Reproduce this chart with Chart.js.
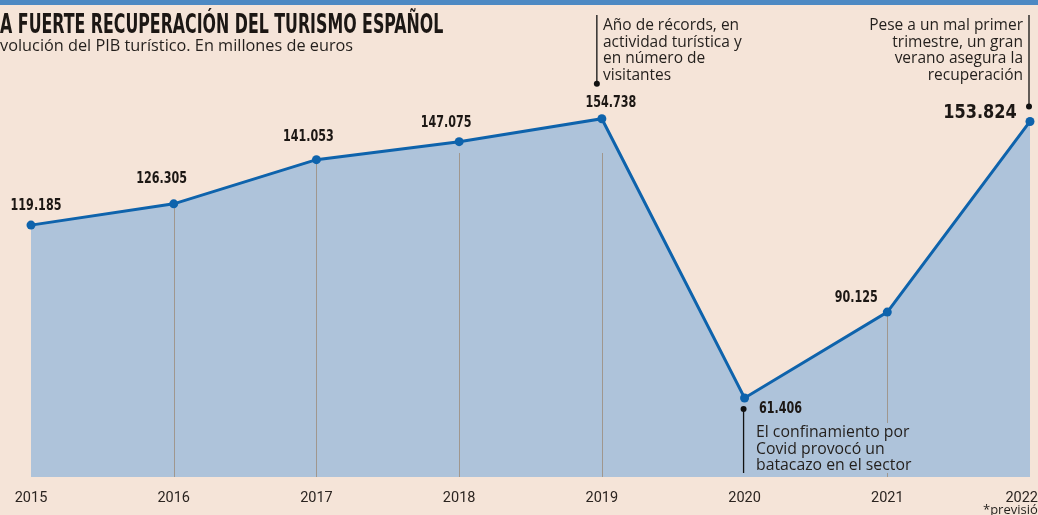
<!DOCTYPE html>
<html>
<head>
<meta charset="utf-8">
<script src="https://cdn.jsdelivr.net/npm/chart.js@4.4.1/dist/chart.umd.min.js"></script>
<style>
  body { margin: 0; background: #f5e4d8; }
  #wrap { position: relative; width: 1038px; height: 515px; overflow: hidden; background: #f5e4d8; }
  #bar { position: absolute; left: 0; top: 0; width: 1038px; height: 5px; background: #4d89c3; }
  canvas { position: absolute; left: 0; top: 0; }
  .txt { position: absolute; color: #231f1c; font-family: "Open Sans", Roboto, sans-serif; font-size: 15.5px; line-height: 16.7px; white-space: nowrap; }
  #title { position: absolute; top: 9px; left: 0; font-family: "DejaVu Sans Condensed", "DejaVu Sans", sans-serif; font-weight: bold; font-size: 26px; color: #1c1714; white-space: nowrap; transform-origin: 0 0; }
  #subtitle { top: 37px; left: 0; font-size: 16.3px; }
  #note2019 { left: 603px; top: 16px; }
  #note2022 { right: 15px; top: 16px; text-align: right; }
  #note2020 { left: 756px; top: 423px; background: #aec3da; padding-right: 4px; font-size: 15.8px; }
  #prev { left: 983px; top: 501px; font-size: 13px; }
</style>
</head>
<body>
<div id="wrap">
  <canvas id="chart" width="1038" height="515"></canvas>
  <div id="bar"></div>
  <div id="title"><span id="tcut">L</span>A FUERTE RECUPERACIÓN DEL TURISMO ESPAÑOL</div>
  <div id="subtitle" class="txt"><span id="scut">E</span>volución del PIB turístico. En millones de euros</div>
  <div id="note2019" class="txt">Año de récords, en<br>actividad turística y<br>en número de<br>visitantes</div>
  <div id="note2022" class="txt">Pese a un mal primer<br>trimestre, un gran<br>verano asegura la<br>recuperación</div>
  <div id="note2020" class="txt">El confinamiento por<br>Covid provocó un<br>batacazo en el sector</div>
  <div id="prev" class="txt">*previsión</div>
</div>
<script>
// data
const years = ['2015', '2016', '2017', '2018', '2019', '2020', '2021', '2022'];
const pib = [119185, 126305, 141053, 147075, 154738, 61406, 90125, 153824];
const yMin = 35000;
const yMax = 161000;

// label placement (offset from the point: dx, dy of baseline)
const labelOffset = [[5, -15], [-12, -21], [-8, -19], [-13, -15], [9, -12], [36, 15], [-31, -10], [-50, -3]];
const gridYears = ['2016', '2017', '2018', '2019', '2021'];

function fmt(v) {
	return Math.floor(v / 1000) + '.' + String(v % 1000).padStart(3, '0');
}

// title cut-off like the original crop
const title = document.getElementById('title');
const tcut = document.getElementById('tcut').offsetWidth;
const visW = title.offsetWidth - tcut;
const sx = 443 / visW;
title.style.transform = 'scaleX(' + sx + ')';
title.style.left = (-tcut * sx) + 'px';
const sub = document.getElementById('subtitle');
sub.style.left = (-document.getElementById('scut').offsetWidth) + 'px';

// condensed text on canvas
function squeezed(ctx, text, x, y, k) {
	ctx.save();
	ctx.translate(x, y);
	ctx.scale(k, 1);
	ctx.fillText(text, 0, 0);
	ctx.restore();
}

const extras = {
	id: 'extras',
	beforeDatasetDraw(chart) {
		const ctx = chart.ctx;
		const meta = chart.getDatasetMeta(0);
		const bottom = chart.chartArea.bottom;
		ctx.save();
		ctx.strokeStyle = '#a0978e';
		ctx.lineWidth = 1;
		gridYears.forEach(function (y) {
			const i = years.indexOf(y);
			const p = meta.data[i];
			const x = Math.round(p.x) + 0.5;
			const top = Math.max(p.y, chart.chartArea.top + 53);
			ctx.beginPath();
			ctx.moveTo(x, top);
			ctx.lineTo(x, bottom);
			ctx.stroke();
		});
		ctx.restore();
	},
	afterDatasetsDraw(chart) {
		const ctx = chart.ctx;
		const meta = chart.getDatasetMeta(0);
		ctx.save();
		// value labels
		ctx.fillStyle = '#1c1714';
		ctx.textAlign = 'center';
		ctx.textBaseline = 'alphabetic';
		meta.data.forEach(function (p, i) {
			const big = i === pib.length - 1;
			ctx.font = 'bold ' + (big ? 19.5 : 15.5) + 'px "DejaVu Sans Condensed", "DejaVu Sans", sans-serif';
			squeezed(ctx, fmt(pib[i]), p.x + labelOffset[i][0], p.y + labelOffset[i][1], big ? 0.92 : 0.8);
		});
		// annotation pointers
		ctx.strokeStyle = '#111';
		ctx.fillStyle = '#111';
		ctx.lineWidth = 1.3;
		function pointer(x, y1, y2, dotY) {
			ctx.beginPath();
			ctx.moveTo(x, y1);
			ctx.lineTo(x, y2);
			ctx.stroke();
			ctx.beginPath();
			ctx.arc(x, dotY, 3, 0, Math.PI * 2);
			ctx.fill();
		}
		const p19 = meta.data[years.indexOf('2019')];
		pointer(p19.x - 5, 15, p19.y - 35, p19.y - 35);
		const p22 = meta.data[years.indexOf('2022')];
		pointer(p22.x - 1, 15, p22.y - 15, p22.y - 15);
		const p20 = meta.data[years.indexOf('2020')];
		pointer(p20.x - 1, p20.y + 11, chart.chartArea.bottom - 4, p20.y + 11);
		// x axis labels
		ctx.fillStyle = '#2b2420';
		ctx.font = '14.5px Roboto, "Liberation Sans", sans-serif';
		const xs = chart.scales.x;
		years.forEach(function (y, i) {
			const w = ctx.measureText(y).width;
			let x = xs.getPixelForValue(i);
			x = Math.min(x, chart.width - w / 2);
			ctx.fillText(y, x, 502);
		});
		ctx.restore();
	}
};

new Chart(document.getElementById('chart'), {
	type: 'line',
	data: {
		labels: years,
		datasets: [{
			data: pib,
			borderColor: '#0e63ac',
			backgroundColor: '#aec3da',
			borderWidth: 3,
			fill: 'start',
			tension: 0,
			pointRadius: 4.5,
			pointBackgroundColor: '#0e63ac',
			pointBorderWidth: 0,
			clip: false
		}]
	},
	options: {
		responsive: false,
		animation: false,
		devicePixelRatio: 1,
		layout: { padding: { left: 31, right: 8, top: 100, bottom: 38 } },
		plugins: { legend: { display: false }, tooltip: { enabled: false } },
		scales: {
			x: { display: false, offset: false },
			y: { display: false, min: yMin, max: yMax }
		}
	},
	plugins: [extras]
});
</script>
</body>
</html>
